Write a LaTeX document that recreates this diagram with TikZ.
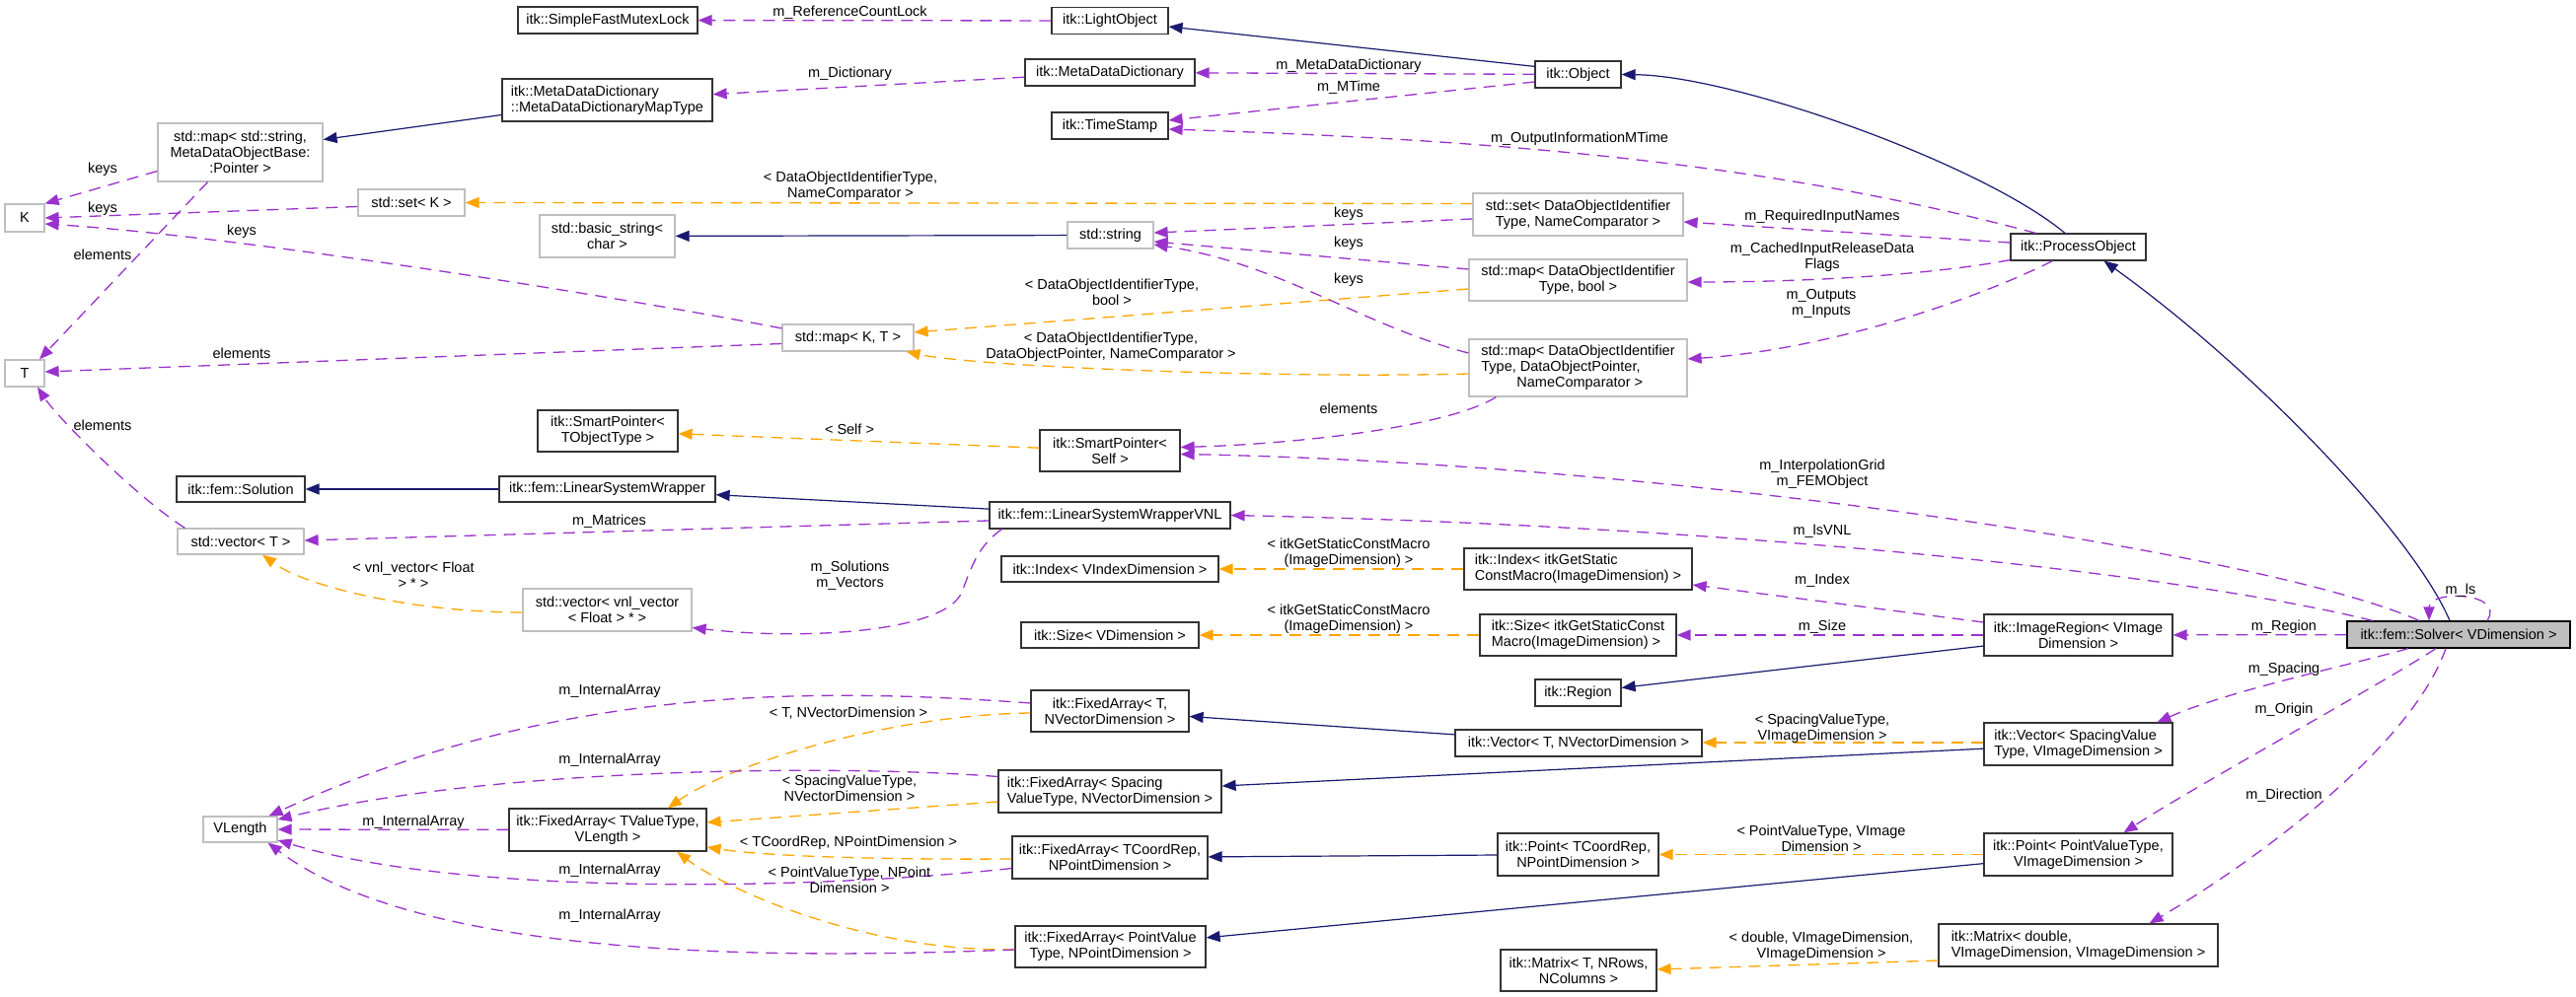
\documentclass[tikz,border=0pt]{standalone}
\usepackage{fontspec}
\setmainfont{Liberation Sans}
\usetikzlibrary{arrows.meta,calc}
\definecolor{mblue}{HTML}{191970}
\definecolor{purp}{HTML}{9A32CD}
\definecolor{orng}{HTML}{FFA500}
\definecolor{grey75}{HTML}{BFBFBF}
\newcommand{\dfont}{\fontsize{14.5}{16}\selectfont}
\tikzset{
  nd/.style={draw, line width=1.2pt, inner sep=0pt, font=\dfont, text=black},
  blk/.style={nd, draw=black!80},
  gry/.style={nd, draw=grey75},
  lbl/.style={font=\dfont, align=center, inner sep=0pt, text=black},
  inh/.style={draw=mblue, line width=1.2pt, -{Triangle[length=14pt,width=11pt]}},
  mem/.style={draw=purp, line width=1.3pt, dash pattern=on 12pt off 8pt, -{Triangle[length=14pt,width=11pt]}},
  tmpl/.style={draw=orng, line width=1.3pt, dash pattern=on 12pt off 8pt, -{Triangle[length=14pt,width=11pt]}},
}
\begin{document}
\begin{tikzpicture}[x=1pt,y=-1pt]
\fill[white] (0,0) rectangle (2611,1011);
\useasboundingbox (0,0) rectangle (2611,1011);

% ---------- nodes ----------
\node[blk, minimum width=182pt, minimum height=27pt] (sfml) at (616,20.5) {itk::SimpleFastMutexLock};
\node[blk, minimum width=213pt, minimum height=43pt, align=left] (mddmt) at (615.5,101.5) {itk::MetaDataDictionary\\::MetaDataDictionaryMapType};
\node[gry, minimum width=167pt, minimum height=59pt, align=center] (mapss) at (243.5,154.5) {std::map< std::string,\\MetaDataObjectBase:\\:Pointer >};
\node[gry, minimum width=40pt, minimum height=28pt] (k) at (25,221) {K};
\node[gry, minimum width=108pt, minimum height=27pt] (setk) at (417,205.5) {std::set< K >};
\node[gry, minimum width=137pt, minimum height=43pt, align=center] (basicstr) at (615.5,239.5) {std::basic\_string<\\char >};
\node[blk, minimum width=118pt, minimum height=27pt] (lightobj) at (1125,21) {itk::LightObject};
\node[blk, minimum width=172pt, minimum height=27pt] (mdd) at (1125,73.5) {itk::MetaDataDictionary};
\node[blk, minimum width=118pt, minimum height=27pt] (timestamp) at (1125,127.5) {itk::TimeStamp};
\node[gry, minimum width=87pt, minimum height=27pt] (stdstring) at (1125.5,238.5) {std::string};
\node[gry, minimum width=133pt, minimum height=27pt] (mapkt) at (859.5,342.5) {std::map< K, T >};
\node[blk, minimum width=87pt, minimum height=27pt] (object) at (1599.5,75.5) {itk::Object};
\node[gry, minimum width=213pt, minimum height=43pt, align=center] (setdo) at (1599.5,217.5) {std::set< DataObjectIdentifier\\Type, NameComparator >};
\node[gry, minimum width=221pt, minimum height=42pt, align=center] (mapdob) at (1599.5,284) {std::map< DataObjectIdentifier\\Type, bool >};
\node[gry, minimum width=221pt, minimum height=58pt, align=left] (mapdop) at (1599.5,373) {std::map< DataObjectIdentifier\\Type, DataObjectPointer,\\\hspace*{36pt}NameComparator >};
\node[blk, minimum width=137pt, minimum height=27pt] (procobj) at (2106.5,250.5) {itk::ProcessObject};
\node[gry, minimum width=40pt, minimum height=27pt] (t) at (25,378.5) {T};
\node[blk, minimum width=142pt, minimum height=42pt, align=center] (spt) at (616,437) {itk::SmartPointer<\\TObjectType >};
\node[blk, minimum width=130pt, minimum height=26pt] (solution) at (244,496) {itk::fem::Solution};
\node[blk, minimum width=219pt, minimum height=26pt] (lsw) at (615.5,496) {itk::fem::LinearSystemWrapper};
\node[gry, minimum width=128pt, minimum height=26pt] (vect) at (244,549) {std::vector< T >};
\node[gry, minimum width=171pt, minimum height=43pt, align=center] (vecvnl) at (615.5,618.5) {std::vector< vnl\_vector\\< Float > * >};
\node[blk, minimum width=142pt, minimum height=42pt, align=center] (sps) at (1125,457) {itk::SmartPointer<\\Self >};
\node[blk, minimum width=244pt, minimum height=27pt] (lswvnl) at (1125,522.5) {itk::fem::LinearSystemWrapperVNL};
\node[blk, minimum width=220pt, minimum height=26pt] (indexv) at (1125,577) {itk::Index< VIndexDimension >};
\node[blk, minimum width=180pt, minimum height=26pt] (sizev) at (1125,644) {itk::Size< VDimension >};
\node[blk, minimum width=231pt, minimum height=42pt, align=left] (indexi) at (1599.5,577) {itk::Index< itkGetStatic\\ConstMacro(ImageDimension) >};
\node[blk, minimum width=199pt, minimum height=42pt, align=left] (sizei) at (1599.5,644) {itk::Size< itkGetStaticConst\\Macro(ImageDimension) >};
\node[blk, minimum width=191pt, minimum height=42pt, align=center] (imgregion) at (2106.5,644) {itk::ImageRegion< VImage\\Dimension >};
\node[nd, draw=black, fill=grey75, minimum width=226pt, minimum height=27pt] (solver) at (2492,643.5) {itk::fem::Solver< VDimension >};
\node[gry, minimum width=75pt, minimum height=26pt] (vlength) at (243.5,841) {VLength};
\node[blk, minimum width=200pt, minimum height=43pt, align=center] (fatv) at (616,841.5) {itk::FixedArray< TValueType,\\VLength >};
\node[blk, minimum width=160pt, minimum height=42pt, align=center] (fat) at (1125,721) {itk::FixedArray< T,\\NVectorDimension >};
\node[blk, minimum width=226pt, minimum height=43pt, align=left] (fasp) at (1125,802.5) {itk::FixedArray< Spacing\\ValueType, NVectorDimension >};
\node[blk, minimum width=198pt, minimum height=43pt, align=center] (fatc) at (1125,869.5) {itk::FixedArray< TCoordRep,\\NPointDimension >};
\node[blk, minimum width=193pt, minimum height=42pt, align=center] (fapv) at (1125.5,960) {itk::FixedArray< PointValue\\Type, NPointDimension >};
\node[blk, minimum width=87pt, minimum height=27pt] (region) at (1599.5,702.5) {itk::Region};
\node[blk, minimum width=250pt, minimum height=27pt] (vecnt) at (1600,753.5) {itk::Vector< T, NVectorDimension >};
\node[blk, minimum width=163pt, minimum height=43pt, align=center] (pointtc) at (1599.5,866.5) {itk::Point< TCoordRep,\\NPointDimension >};
\node[blk, minimum width=158pt, minimum height=42pt, align=center] (matrixt) at (1600,984) {itk::Matrix< T, NRows,\\NColumns >};
\node[blk, minimum width=191pt, minimum height=43pt, align=left] (vecsp) at (2106.5,754.5) {itk::Vector< SpacingValue\\Type, VImageDimension >};
\node[blk, minimum width=191pt, minimum height=43pt, align=center] (pointpv) at (2106.5,866.5) {itk::Point< PointValueType,\\VImageDimension >};
\node[blk, minimum width=283pt, minimum height=43pt, align=left] (matrixd) at (2106.5,958.5) {itk::Matrix< double,\\VImageDimension, VImageDimension >};

% ---------- inheritance ----------
\draw[inh] ($(object.north west)+(0,6)$) -- ($(lightobj.east)+(0,6)$);
\draw[inh] ($(procobj.north)+(-13.5,0)$) .. controls (2010,167) and (1760,77) .. (object.east);
\draw[inh] ($(solver.north)+(-9,0)$) .. controls (2445,540) and (2280,370) .. ($(procobj.south)+(26,0)$);
\draw[inh] ($(mddmt.west)+(0,15)$) -- ($(mapss.east)+(0,-13)$);
\draw[inh] (stdstring) -- (basicstr);
\draw[inh] (lsw) -- (solution);
\draw[inh] (lswvnl) -- (lsw);
\draw[inh] (imgregion) -- (region);
\draw[inh] (vecnt) -- (fat);
\draw[inh] (vecsp) -- (fasp);
\draw[inh] (pointtc) -- (fatc);
\draw[inh] (pointpv) -- (fapv);

% ---------- template instances ----------
\draw[tmpl] ($(setdo.west)+(0,-11)$) -- (setk.east);
\draw[tmpl] ($(mapdob.west)+(0,9)$) -- ($(mapkt.east)+(0,-5.5)$);
\draw[tmpl] ($(mapdop.west)+(0,6)$) .. controls (1300,384) and (990,372) .. ($(mapkt.south east)+(-8,0)$);
\draw[tmpl] (sps) -- (spt);
\draw[tmpl] ($(vecvnl.west)+(0,2.5)$) .. controls (420,621) and (310,595) .. ($(vect.south)+(22,0)$);
\draw[tmpl] (indexi) -- (indexv);
\draw[tmpl] (sizei) -- (sizev);
\draw[tmpl] ($(vecsp.west)+(0,-1.5)$) -- ($(vecnt.east)+(0,-0.5)$);
\draw[tmpl] (pointpv) -- (pointtc);
\draw[tmpl] ($(matrixd.west)+(0,15.5)$) -- ($(matrixt.east)+(0,-1)$);
\draw[tmpl] ($(fat.west)+(0,2)$) .. controls (900,725) and (740,775) .. ($(fatv.north)+(61,0)$);
\draw[tmpl] ($(fasp.west)+(0,10.5)$) -- ($(fatv.east)+(0,-7.5)$);
\draw[tmpl] ($(fatc.west)+(0,1.5)$) .. controls (850,872) and (760,866) .. ($(fatv.east)+(0,17.5)$);
\draw[tmpl] ($(fapv.west)+(0,3)$) .. controls (880,965) and (741,905) .. ($(fatv.south)+(70,0)$);

% ---------- members ----------
\draw[mem] (lightobj) -- (sfml);
\draw[mem] (mdd) -- (mddmt);
\draw[mem] (object) -- (mdd);
\draw[mem] ($(object.west)+(0,7.5)$) -- ($(timestamp.east)+(0,-5.5)$);
\draw[mem] ($(procobj.north west)+(26,0)$) .. controls (1764,156) and (1450,140) .. ($(timestamp.east)+(0,3.5)$);
\draw[mem] ($(procobj.west)+(0,-4.5)$) -- ($(setdo.east)+(0,7.5)$);
\draw[mem] ($(procobj.south west)+(0,-1)$) .. controls (1950,280) and (1820,286) .. ($(mapdob.east)+(0,2)$);
\draw[mem] ($(procobj.south west)+(43,0)$) .. controls (2000,305) and (1850,355) .. ($(mapdop.east)+(0,-9)$);
\draw[mem] ($(setdo.west)+(0,4.5)$) -- ($(stdstring.east)+(0,-2.5)$);
\draw[mem] ($(mapdob.west)+(0,-11)$) -- ($(stdstring.east)+(0,6.5)$);
\draw[mem] ($(mapdop.west)+(0,-15)$) .. controls (1380,330) and (1300,268) .. ($(stdstring.east)+(0,9.5)$);
\draw[mem] ($(setk.west)+(0,4)$) -- (k.east);
\draw[mem] ($(mapss.west)+(0,19)$) -- (k.north east);
\draw[mem] ($(mapkt.west)+(0,-9.5)$) .. controls (650,305) and (250,240) .. ($(k.east)+(0,6)$);
\draw[mem] ($(mapss.south)+(-33,0)$) -- ($(t.north)+(15,0)$);
\draw[mem] ($(mapkt.west)+(0,6)$) -- ($(t.east)+(0,-1.5)$);
\draw[mem] ($(vect.north west)+(8,0)$) .. controls (138,504) and (58,423) .. ($(t.south)+(13,0)$);
\draw[mem] ($(mapdop.south west)+(28,0)$) .. controls (1470,432) and (1320,450) .. ($(sps.east)+(0,-3.5)$);
\draw[mem] ($(solver.north)+(-40,0)$) .. controls (2302,562) and (1696,470) .. ($(sps.east)+(0,3.5)$);
\draw[mem] ($(solver.north)+(-87,0)$) .. controls (2205,580) and (1747,533) .. (lswvnl.east);
\draw[mem] ($(imgregion.west)+(0,-13)$) -- ($(indexi.east)+(0,16)$);
\draw[mem] (imgregion) -- (sizei);
\draw[mem] (solver) -- (imgregion);
\draw[mem] ($(solver.north)+(29,0)$) .. controls (2540,600) and (2462,598) .. ($(solver.north)+(-30,0)$);
\draw[mem] ($(solver.south)+(-51,0)$) .. controls (2380,675) and (2260,700) .. ($(vecsp.north)+(80,0)$);
\draw[mem] ($(solver.south)+(-23,0)$) .. controls (2420,690) and (2220,800) .. ($(pointpv.north)+(46,0)$);
\draw[mem] ($(solver.south)+(-13,0)$) .. controls (2444,757) and (2288,872) .. ($(matrixd.north)+(72,0)$);
\draw[mem] ($(lswvnl.west)+(0,5.5)$) -- ($(vect.east)+(0,-1)$);
\coordinate (svbend) at (975,600);
\draw[mem] ($(lswvnl.south west)+(13,0)$) .. controls (990,555) and (985,575) .. (svbend) .. controls (960,640) and (820,650) .. ($(vecvnl.east)+(0,18)$);
\draw[mem] ($(fat.west)+(0,-8)$) .. controls (800,695) and (550,700) .. ($(vlength.north east)+(-9,0)$);
\draw[mem] ($(fasp.west)+(0,-15)$) .. controls (850,775) and (500,778) .. ($(vlength.east)+(0,-10)$);
\draw[mem] (fatv) -- (vlength);
\draw[mem] ($(fatc.west)+(0,11)$) .. controls (850,900) and (480,912) .. ($(vlength.east)+(0,11)$);
\draw[mem] ($(fapv.west)+(0,3)$) .. controls (800,972) and (430,975) .. ($(vlength.south east)+(-10,0)$);

% ---------- labels ----------
\node[lbl] (lrefc) at (861.5,12.7) {m\_ReferenceCountLock};
\node[lbl] (ldict) at (861.5,75) {m\_Dictionary};
\node[lbl] (lmdd) at (1367,66.7) {m\_MetaDataDictionary};
\node[lbl] (lmtime) at (1367,88.3) {m\_MTime};
\node[lbl] (loutinfo) at (1601,141) {m\_OutputInformationMTime};
\node[lbl] (lreq) at (1847,220) {m\_RequiredInputNames};
\node[lbl] (lcached) at (1847,260.7) {m\_CachedInputReleaseData\\Flags};
\node[lbl] (loutputs) at (1846,308) {m\_Outputs\\m\_Inputs};
\node[lbl] (lkeys1) at (1367,216.7) {keys};
\node[lbl] (lkeys2) at (1367,246.7) {keys};
\node[lbl] (lkeys3) at (1367,283.3) {keys};
\node[lbl] (lkeysk1) at (104,212) {keys};
\node[lbl] (lkeysk2) at (104,171.7) {keys};
\node[lbl] (lkeysk3) at (245,234.3) {keys};
\node[lbl] (lel1) at (104,258.3) {elements};
\node[lbl] (lel2) at (245,358.3) {elements};
\node[lbl] (lel3) at (104,431.7) {elements};
\node[lbl] (lel4) at (1367,414.3) {elements};
\node[lbl] (ltsetdo) at (862,188.5) {< DataObjectIdentifierType,\\NameComparator >};
\node[lbl] (ltmapb) at (1127,296) {< DataObjectIdentifierType,\\bool >};
\node[lbl] (ltmapdop) at (1126,352) {< DataObjectIdentifierType,\\DataObjectPointer, NameComparator >};
\node[lbl] (lself) at (861,435.7) {< Self >};
\node[lbl] (lvnl) at (419,583.5) {< vnl\_vector< Float\\> * >};
\node[lbl] (linterp) at (1847,480.7) {m\_InterpolationGrid\\m\_FEMObject};
\node[lbl] (llsvnl) at (1847,539) {m\_lsVNL};
\node[lbl] (lmatrices) at (617.5,528.3) {m\_Matrices};
\node[lbl] (lsolutions) at (861.5,583.7) {m\_Solutions\\m\_Vectors};
\node[lbl] (ltindex) at (1367,560.5) {< itkGetStaticConstMacro\\(ImageDimension) >};
\node[lbl] (ltsize) at (1367,627.7) {< itkGetStaticConstMacro\\(ImageDimension) >};
\node[lbl] (lindex) at (1847,588.3) {m\_Index};
\node[lbl] (lsize) at (1847,635.7) {m\_Size};
\node[lbl] (lregion) at (2315,635.7) {m\_Region};
\node[lbl] (lls) at (2494,599) {m\_ls};
\node[lbl] (lspacing) at (2315,678.3) {m\_Spacing};
\node[lbl] (lorigin) at (2315,720) {m\_Origin};
\node[lbl] (ldirection) at (2315,806.7) {m\_Direction};
\node[lbl] (ltvecsp) at (1847,738.7) {< SpacingValueType,\\VImageDimension >};
\node[lbl] (ltpointpv) at (1846,850.5) {< PointValueType, VImage\\Dimension >};
\node[lbl] (ltmatrix) at (1846,959.5) {< double, VImageDimension,\\VImageDimension >};
\node[lbl] (ltfat) at (860,722.7) {< T, NVectorDimension >};
\node[lbl] (ltfasp) at (861,799.5) {< SpacingValueType,\\NVectorDimension >};
\node[lbl] (ltfatc) at (860,854.3) {< TCoordRep, NPointDimension >};
\node[lbl] (ltfapv) at (861,892) {< PointValueType, NPoint\\Dimension >};
\node[lbl] (lia1) at (618,700.7) {m\_InternalArray};
\node[lbl] (lia2) at (618,770.7) {m\_InternalArray};
\node[lbl] (lia3) at (419,833.3) {m\_InternalArray};
\node[lbl] (lia4) at (618,882.7) {m\_InternalArray};
\node[lbl] (lia5) at (618,929) {m\_InternalArray};
\end{tikzpicture}
\end{document}
